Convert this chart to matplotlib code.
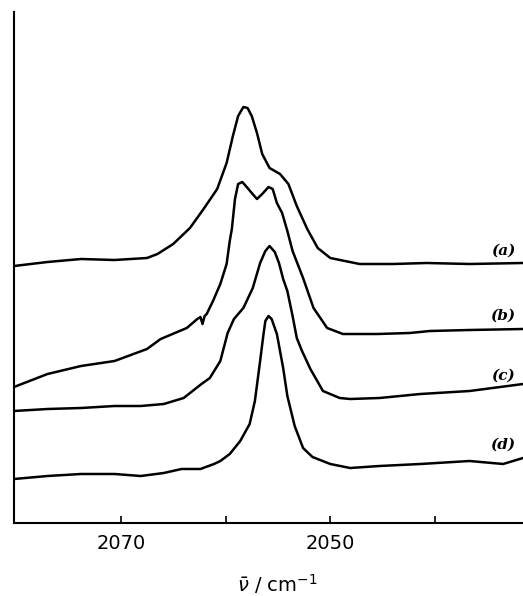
import numpy as np
import matplotlib
matplotlib.use("Agg")
import matplotlib.pyplot as plt

# wavenumbers (cm^-1) and offset absorbance (arbitrary units)
wn_a = [2080.2, 2077.0, 2073.8, 2070.6, 2067.5, 2066.5, 2065.0, 2063.4, 2062.1, 2060.8,
        2059.9, 2059.3, 2058.8, 2058.3, 2057.9, 2057.5, 2057.0, 2056.5, 2055.8, 2054.8,
        2054.0, 2053.2, 2052.2, 2051.2, 2050.0, 2047.2, 2044.0, 2040.8, 2036.7, 2031.6]
abs_a = [257, 261, 264, 263, 265, 269, 279, 295, 314, 334,
         360, 387, 407, 416, 415, 407, 390, 369, 355, 349,
         339, 317, 294, 275, 265, 259, 259, 260, 259, 260]

wn_b = [2080.2, 2077.0, 2073.8, 2070.6, 2067.5, 2066.2, 2063.7, 2062.7, 2062.4, 2062.2,
        2062.0, 2061.8, 2061.2, 2060.5, 2059.9, 2059.6, 2059.4, 2059.1, 2058.8, 2058.4,
        2057.9, 2057.5, 2057.0, 2056.5, 2055.9, 2055.5, 2055.1, 2054.6, 2054.1, 2053.6,
        2052.6, 2051.6, 2050.3, 2048.8, 2045.5, 2042.4, 2040.5, 2036.7, 2031.6]
abs_b = [136, 149, 157, 162, 174, 184, 195, 204, 206, 199,
         207, 209, 222, 239, 259, 282, 294, 324, 339, 341,
         335, 330, 324, 329, 336, 334, 320, 310, 292, 272,
         245, 215, 195, 189, 189, 190, 192, 193, 194]

wn_c = [2080.2, 2077.0, 2073.8, 2070.6, 2068.1, 2065.9, 2064.0, 2062.3, 2061.5, 2060.5,
        2059.8, 2059.2, 2058.3, 2057.4, 2056.7, 2056.2, 2055.8, 2055.3, 2054.9, 2054.5,
        2054.1, 2053.6, 2053.2, 2052.7, 2051.9, 2050.7, 2049.1, 2048.1, 2045.3, 2041.4,
        2036.7, 2031.6]
abs_c = [112, 114, 115, 117, 117, 119, 125, 139, 145, 162,
         190, 204, 215, 235, 260, 272, 277, 271, 260, 244,
         232, 207, 185, 172, 154, 132, 125, 124, 125, 129,
         132, 139]

wn_d = [2080.2, 2077.0, 2073.8, 2070.6, 2068.1, 2065.9, 2064.2, 2062.4, 2061.1, 2060.5,
        2059.6, 2058.6, 2057.7, 2057.2, 2056.7, 2056.4, 2056.2, 2055.9, 2055.6, 2055.1,
        2054.5, 2054.1, 2053.4, 2052.6, 2051.7, 2050.0, 2048.1, 2045.3, 2041.4, 2036.7,
        2033.5, 2031.6]
abs_d = [44, 47, 49, 49, 47, 50, 54, 54, 59, 62,
         69, 82, 99, 122, 162, 187, 202, 207, 204, 189,
         155, 127, 97, 75, 66, 59, 55, 57, 59, 62,
         59, 65]

labels = ["(a)", "(b)", "(c)", "(d)"]
label_y = [272, 207, 147, 78]

fig = plt.figure(figsize=(5.23, 5.96), dpi=100)
ax = fig.add_axes([14 / 523, 73 / 596, 509 / 523, 511 / 596])

for wn, ab in [(wn_a, abs_a), (wn_b, abs_b), (wn_c, abs_c), (wn_d, abs_d)]:
    ax.plot(wn, ab, color="black", linewidth=1.8, solid_joinstyle="round",
            solid_capstyle="round")

for lab, yy in zip(labels, label_y):
    ax.text(2033.5, yy, lab, fontsize=11, style="italic", fontweight="bold",
            ha="center", va="center", family="DejaVu Serif")

ax.set_xlim(2080.2, 2031.6)
ax.set_ylim(0, 511)

ax.spines["top"].set_visible(False)
ax.spines["right"].set_visible(False)
for s in ["left", "bottom"]:
    ax.spines[s].set_linewidth(1.5)

ax.set_yticks([])
ax.set_xticks([2070, 2060, 2050, 2040])
ax.set_xticklabels(["2070", "", "2050", ""])
ax.tick_params(axis="x", direction="in", length=5, width=1.2, labelsize=14, pad=8)

ax.set_xlabel(r"$\bar{\nu}$ / cm$^{-1}$", fontsize=14)
ax.xaxis.set_label_coords(0.517, -0.12)
ax.xaxis.label.set_va("center")

fig.savefig("out.png", dpi=100)
